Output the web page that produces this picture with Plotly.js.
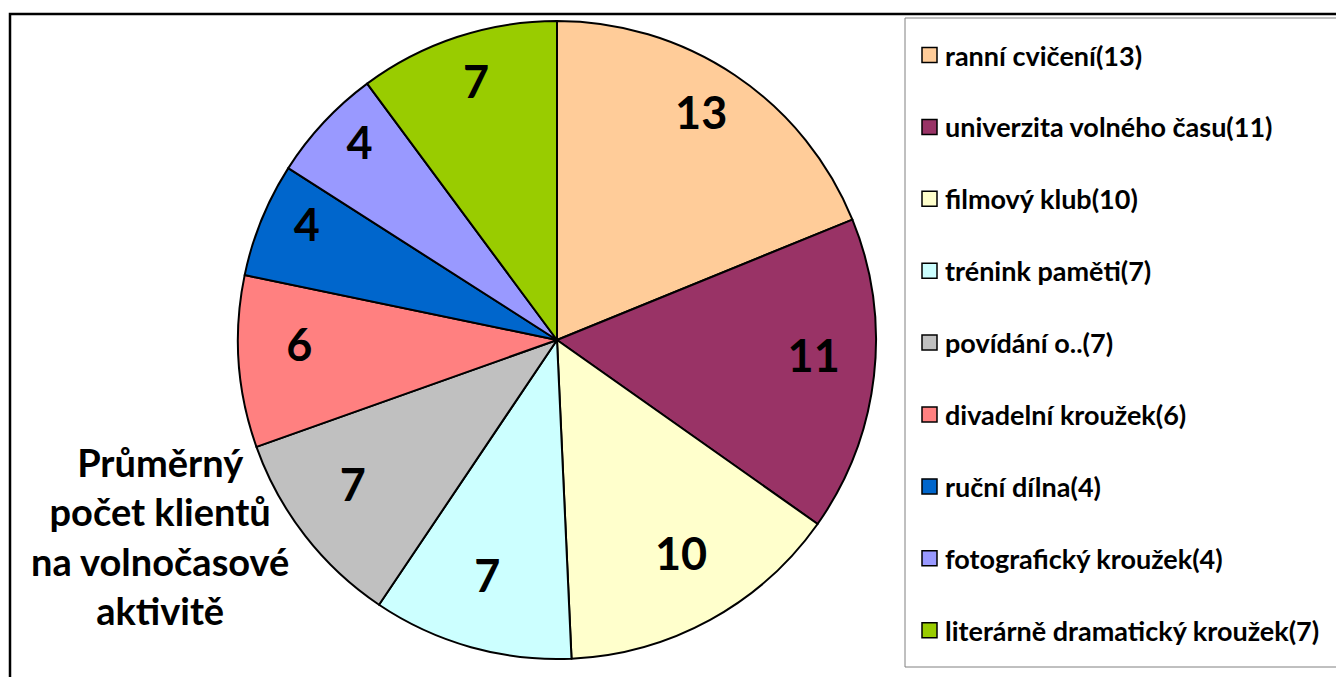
<!DOCTYPE html>
<html>
<head>
<meta charset="utf-8">
<script src="https://cdn.plot.ly/plotly-3.0.1.min.js"></script>
<style>
  html, body { margin: 0; padding: 0; background: #fff; }
  #graf { width: 1336px; height: 677px; }
</style>
</head>
<body>
<div id="graf"></div>
<script>
const aktivity = ['ranní cvičení', 'univerzita volného času', 'filmový klub', 'trénink paměti',
  'povídání o..', 'divadelní kroužek', 'ruční dílna', 'fotografický kroužek', 'literárně dramatický kroužek'];
const klienti = [13, 11, 10, 7, 7, 6, 4, 4, 7];
const barvy = ['#FFCC99', '#993366', '#FFFFCC', '#CCFFFF', '#C0C0C0', '#FF8080', '#0066CC', '#9999FF', '#99CC00'];
const nadpis = 'Průměrný<br>počet klientů<br>na volnočasové<br>aktivitě';

const W = 1336, H = 677;
const px = x => x / W;
const py = y => 1 - y / H;

// kruh: stred ~ (557, 340), polomer ~ 319 px
const domena = {
  x: [px(557 - 319), px(557 + 319)],
  y: [py(340 + 319), py(340 - 319)]
};
// popisky v Excelu sedi o kus vys nez stred vysece
const domenaPopisku = {
  x: domena.x,
  y: [py(340 + 319 - 14), py(340 - 319 - 14)]
};
const pismo = { family: 'Lato, sans-serif', weight: 700, color: '#000' };

const kolac = {
  type: 'pie',
  labels: aktivity,
  values: klienti,
  sort: false,
  direction: 'clockwise',
  rotation: 0,
  domain: domena,
  marker: { colors: barvy, line: { color: '#000', width: 2 } },
  textinfo: 'none',
  hoverinfo: 'label+value',
  showlegend: false
};

// pruhledny prstenec jen kvuli popiskum blize k okraji (jako v Excelu)
const popisky = {
  type: 'pie',
  labels: aktivity,
  values: klienti,
  sort: false,
  direction: 'clockwise',
  rotation: 0,
  hole: 0.62,
  domain: domenaPopisku,
  marker: { colors: barvy.map(() => 'rgba(0,0,0,0)'), line: { width: 0 } },
  texttemplate: '%{value}',
  textposition: 'inside',
  insidetextorientation: 'horizontal',
  textfont: Object.assign({ size: 45 }, pismo),
  hoverinfo: 'skip',
  showlegend: false
};

// legenda rucne, at sedi rozestupy
const shapes = [
  { type: 'rect', xref: 'paper', yref: 'paper', x0: px(10), x1: px(W + 20), y0: py(H + 20), y1: py(14),
    line: { color: '#000', width: 2.5 }, fillcolor: 'rgba(0,0,0,0)' },
  { type: 'rect', xref: 'paper', yref: 'paper', x0: px(905), x1: px(W + 20), y0: py(667), y1: py(18),
    line: { color: '#808080', width: 1 }, fillcolor: 'rgba(0,0,0,0)' }
];
const annotations = [
  { xref: 'paper', yref: 'paper', x: px(160), y: py(536), xanchor: 'center', yanchor: 'middle',
    text: nadpis, showarrow: false, align: 'center', font: Object.assign({ size: 38 }, pismo) }
];
aktivity.forEach((a, i) => {
  const yc = 55 + i * 71.9;
  shapes.push({ type: 'rect', xref: 'paper', yref: 'paper', x0: px(922), x1: px(937), y0: py(yc + 7.5), y1: py(yc - 7.5),
    fillcolor: barvy[i], line: { color: '#000', width: 1.5 } });
  annotations.push({ xref: 'paper', yref: 'paper', x: px(943), y: py(yc), xanchor: 'left', yanchor: 'middle',
    text: `${a}(${klienti[i]})`, showarrow: false, font: Object.assign({ size: 27 }, pismo) });
});

Plotly.newPlot('graf', [kolac, popisky], {
  width: W,
  height: H,
  margin: { l: 0, r: 0, t: 0, b: 0 },
  paper_bgcolor: '#fff',
  showlegend: false,
  shapes: shapes,
  annotations: annotations
}, { displayModeBar: false, staticPlot: true });
</script>
</body>
</html>
